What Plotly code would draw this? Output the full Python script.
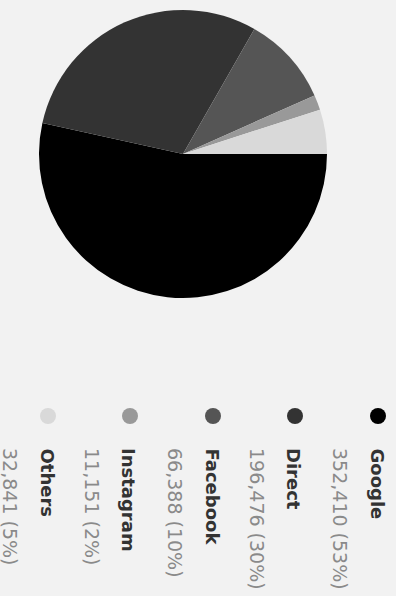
import plotly.graph_objects as go

labels = ["Google", "Direct", "Facebook", "Instagram", "Others"]
values = [352410, 196476, 66388, 11151, 32841]
percents = ["53%", "30%", "10%", "2%", "5%"]
colors = ["#000000", "#333333", "#555555", "#999999", "#d9d9d9"]

W, H = 396, 596
BG = "#f2f2f2"

fig = go.Figure()
fig.add_trace(go.Pie(
    labels=labels, values=values, sort=False, direction="clockwise", rotation=90,
    marker=dict(colors=colors, line=dict(width=0)),
    textinfo="none", hoverinfo="none", showlegend=False,
    domain=dict(x=[39 / W, 327 / W], y=[(H - 298) / H, (H - 10) / H]),
))

shapes = []
annotations = []
dot_x = [378, 295, 213, 130, 48]
for i, lab in enumerate(labels):
    cx = dot_x[i]
    cy = 416
    r = 8
    shapes.append(dict(type="circle", xref="paper", yref="paper",
                       x0=(cx - r) / W, x1=(cx + r) / W,
                       y0=(H - cy - r) / H, y1=(H - cy + r) / H,
                       fillcolor=colors[i], line=dict(width=0)))
    annotations.append(dict(text="<b>" + lab + "</b>", x=(cx - 1) / W, y=(H - 446) / H,
                            xref="paper", yref="paper", xanchor="center", yanchor="top",
                            textangle=90, showarrow=False,
                            font=dict(family="DejaVu Sans", size=18, color="#333333")))
    annotations.append(dict(text=f"{values[i]:,} ({percents[i]})", x=(cx - 38) / W, y=(H - 446) / H,
                            xref="paper", yref="paper", xanchor="center", yanchor="top",
                            textangle=90, showarrow=False,
                            font=dict(family="DejaVu Sans", size=19, color="#8a8a8a")))

fig.update_layout(width=W, height=H, margin=dict(l=0, r=0, t=0, b=0),
                  paper_bgcolor=BG, plot_bgcolor=BG,
                  shapes=shapes, annotations=annotations)
fig.write_html("out.html")
